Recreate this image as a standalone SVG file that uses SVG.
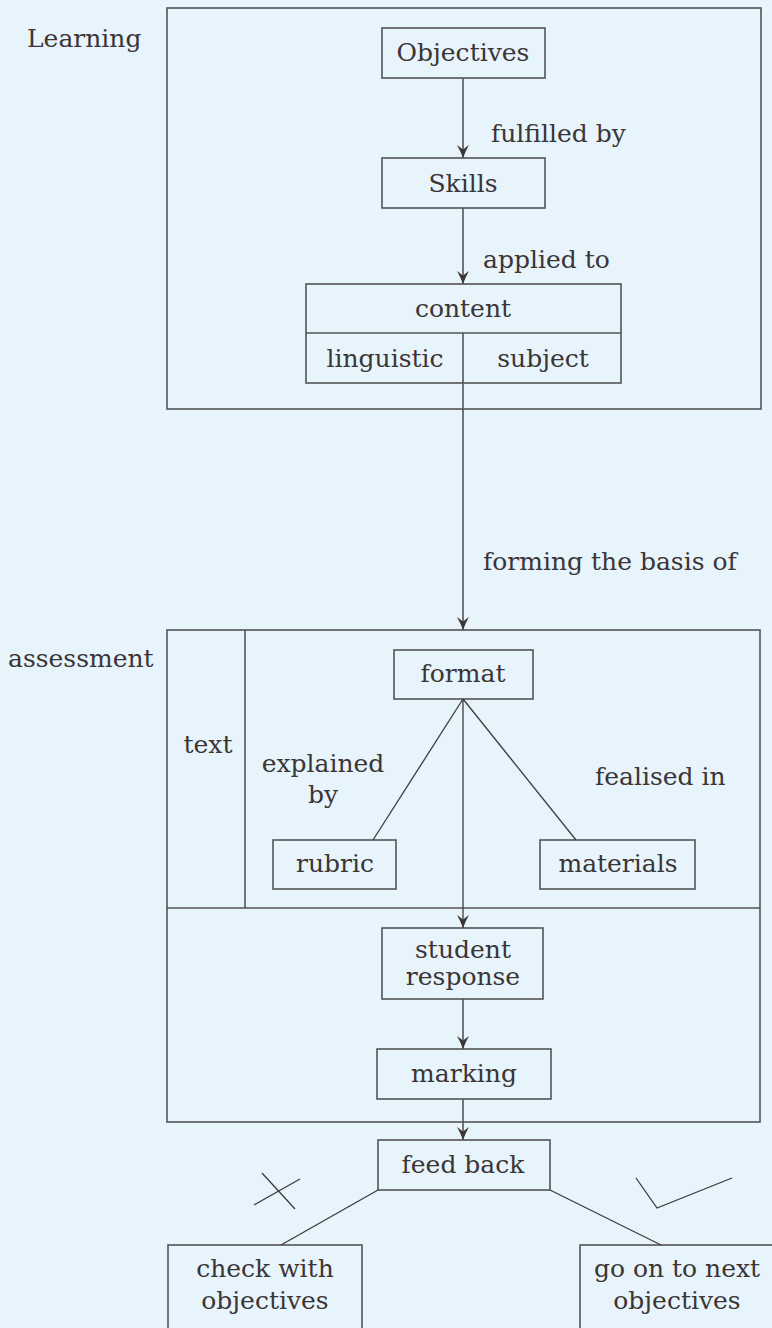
<svg xmlns="http://www.w3.org/2000/svg" width="772" height="1328" viewBox="0 0 772 1328">
<style>
.bg{fill:#e7f4fc}
.box{fill:none;stroke:#545456;stroke-width:1.6}
.ln{fill:none;stroke:#3f3b3c;stroke-width:1.3}
.t{font-family:"DejaVu Serif","Liberation Serif",serif;font-size:25px;fill:#3b3536}
.m{text-anchor:middle}
</style>
<defs>
<marker id="ah" markerWidth="16" markerHeight="14" viewBox="-15 -7 16 14" refX="0" refY="0" orient="auto" markerUnits="userSpaceOnUse">
<path d="M0,0 Q-7,-2.5 -13,-6 L-8.5,0 L-13,6 Q-7,2.5 0,0 Z" fill="#3b3536"/>
</marker>
</defs>
<rect class="bg" x="0" y="0" width="772" height="1328"/>

<g id="learning">
<rect class="box" x="167" y="8" width="594" height="401"/>
<text class="t" x="27" y="47">Learning</text>
</g>
<g id="objectives">
<rect class="box" x="382" y="28" width="163" height="50"/>
<text class="t m" x="463" y="61">Objectives</text>
</g>
<g id="skills">
<rect class="box" x="382" y="158" width="163" height="50"/>
<text class="t m" x="463" y="192">Skills</text>
</g>
<g id="content">
<rect class="box" x="306" y="284" width="315" height="99"/>
<line class="box" x1="306" y1="333" x2="621" y2="333"/>
<line class="box" x1="463" y1="333" x2="463" y2="383"/>
<text class="t m" x="463" y="317">content</text>
<text class="t m" x="385" y="367">linguistic</text>
<text class="t m" x="543" y="367">subject</text>
</g>

<g id="assessment">
<rect class="box" x="167" y="630" width="593" height="492"/>
<line class="box" x1="167" y1="908" x2="760" y2="908"/>
<line class="box" x1="245" y1="630" x2="245" y2="908"/>
<text class="t" x="8" y="667">assessment</text>
<text class="t m" x="208" y="753">text</text>
</g>
<g id="format">
<rect class="box" x="394" y="650" width="139" height="49"/>
<text class="t m" x="463" y="682">format</text>
</g>
<g id="rubric">
<rect class="box" x="273" y="840" width="123" height="49"/>
<text class="t m" x="335" y="872">rubric</text>
</g>
<g id="materials">
<rect class="box" x="540" y="840" width="155" height="49"/>
<text class="t m" x="618" y="872">materials</text>
</g>
<g id="student-response">
<rect class="box" x="382" y="928" width="161" height="71"/>
<text class="t m" x="463" y="958">student</text>
<text class="t m" x="463" y="985">response</text>
</g>
<g id="marking">
<rect class="box" x="377" y="1049" width="174" height="50"/>
<text class="t m" x="464" y="1082">marking</text>
</g>
<g id="feedback">
<rect class="box" x="378" y="1140" width="172" height="50"/>
<text class="t m" x="463" y="1173">feed back</text>
</g>
<g id="check">
<rect class="box" x="168" y="1245" width="194" height="100"/>
<text class="t m" x="265" y="1277">check with</text>
<text class="t m" x="265" y="1309">objectives</text>
</g>
<g id="next">
<rect class="box" x="580" y="1245" width="200" height="100"/>
<text class="t m" x="677" y="1277">go on to next</text>
<text class="t m" x="677" y="1309">objectives</text>
</g>
<g id="marks">
<line class="ln" x1="262" y1="1173" x2="295" y2="1209"/>
<line class="ln" x1="300" y1="1179" x2="254" y2="1205"/>
<polyline class="ln" points="636,1178 657,1208 732,1178"/>
</g>

<g id="connectors">
<line class="box" x1="463" y1="78" x2="463" y2="158" marker-end="url(#ah)"/>
<text class="t" x="491" y="142">fulfilled by</text>
<line class="box" x1="463" y1="208" x2="463" y2="284" marker-end="url(#ah)"/>
<text class="t" x="483" y="268">applied to</text>
<line class="box" x1="463" y1="383" x2="463" y2="630" marker-end="url(#ah)"/>
<text class="t" x="483" y="570">forming the basis of</text>
<line class="ln" x1="463" y1="699" x2="373" y2="840"/>
<line class="ln" x1="463" y1="699" x2="576" y2="840"/>
<text class="t m" x="323" y="772">explained</text>
<text class="t m" x="323" y="803">by</text>
<text class="t" x="595" y="785">fealised in</text>
<line class="ln" x1="463" y1="699" x2="463" y2="928" marker-end="url(#ah)"/>
<line class="box" x1="463" y1="999" x2="463" y2="1049" marker-end="url(#ah)"/>
<line class="box" x1="463" y1="1099" x2="463" y2="1140" marker-end="url(#ah)"/>
<line class="ln" x1="378" y1="1190" x2="281" y2="1245"/>
<line class="ln" x1="550" y1="1190" x2="661" y2="1245"/>
</g>
</svg>
